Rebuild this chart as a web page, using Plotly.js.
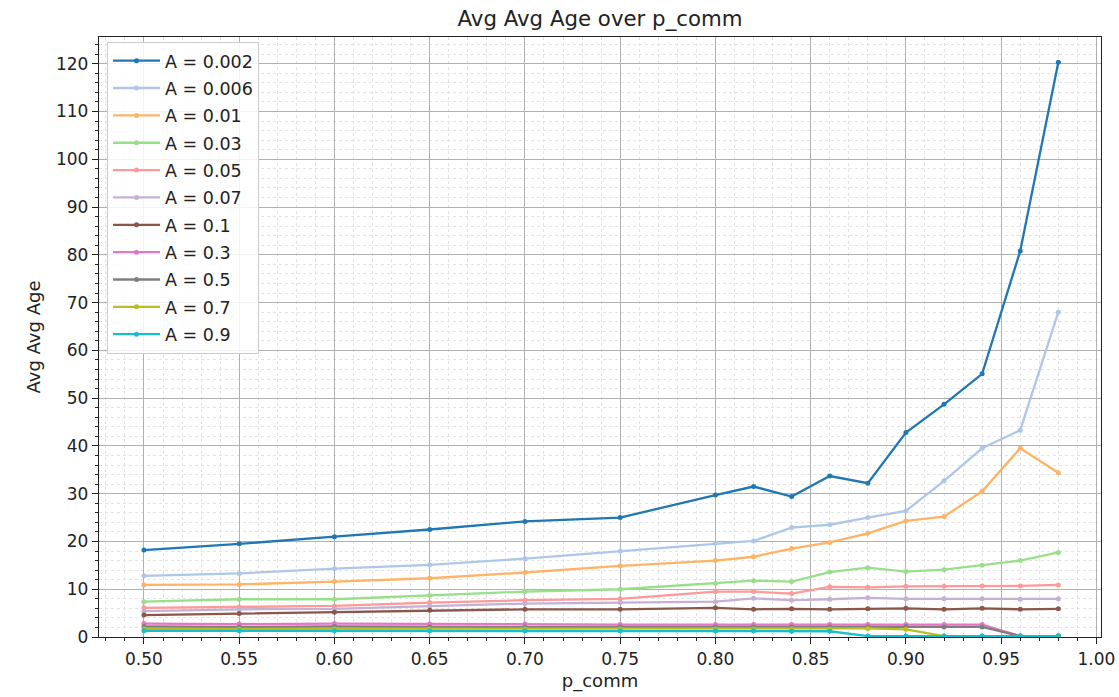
<!DOCTYPE html>
<html>
<head>
<meta charset="utf-8">
<script src="https://cdn.plot.ly/plotly-3.0.1.min.js"></script>
<style>html,body{margin:0;padding:0;background:#fff;}#chart{width:1119px;height:697px;}</style>
</head>
<body>
<div id="chart"></div>
<script>
const pComm = [0.50, 0.55, 0.60, 0.65, 0.70, 0.75, 0.80, 0.82, 0.84, 0.86, 0.88, 0.90, 0.92, 0.94, 0.96, 0.98];

const seriesNames = ["A = 0.002", "A = 0.006", "A = 0.01", "A = 0.03", "A = 0.05", "A = 0.07", "A = 0.1", "A = 0.3", "A = 0.5", "A = 0.7", "A = 0.9"];

const a0002 = [18.2, 19.5, 21.0, 22.5, 24.2, 25.0, 29.7, 31.5, 29.4, 33.7, 32.2, 42.8, 48.7, 55.1, 80.8, 120.3];
const a0006 = [12.8, 13.3, 14.3, 15.1, 16.4, 18.0, 19.6, 20.1, 22.9, 23.5, 25.0, 26.4, 32.7, 39.5, 43.3, 68.0];
const a001  = [10.9, 11.0, 11.6, 12.3, 13.5, 14.9, 16.0, 16.8, 18.5, 19.8, 21.7, 24.3, 25.2, 30.5, 39.5, 34.4];
const a003  = [7.4, 7.9, 7.9, 8.7, 9.5, 10.0, 11.2, 11.8, 11.6, 13.6, 14.5, 13.7, 14.1, 15.0, 16.0, 17.7];
const a005  = [6.1, 6.3, 6.5, 7.2, 7.7, 8.0, 9.5, 9.5, 9.1, 10.5, 10.4, 10.6, 10.6, 10.7, 10.7, 10.9];
const a007  = [5.4, 5.8, 5.9, 6.5, 7.0, 7.2, 7.4, 8.1, 7.7, 7.9, 8.2, 8.0, 8.0, 8.0, 7.9, 8.0];
const a01   = [4.6, 4.9, 5.2, 5.6, 5.8, 5.8, 6.1, 5.8, 5.9, 5.8, 5.9, 6.0, 5.8, 6.0, 5.8, 5.9];
const a03   = [2.8, 2.7, 2.8, 2.7, 2.7, 2.6, 2.6, 2.6, 2.6, 2.6, 2.6, 2.6, 2.6, 2.6, 0.2, 0.2];
const a05   = [2.2, 2.1, 2.2, 2.1, 2.1, 2.1, 2.1, 2.1, 2.1, 2.1, 2.1, 2.2, 2.1, 2.1, 0.2, 0.2];
const a07   = [1.7, 1.7, 1.7, 1.7, 1.7, 1.7, 1.7, 1.7, 1.7, 1.7, 1.8, 1.6, 0.2, 0.2, 0.2, 0.2];
const a09   = [1.3, 1.3, 1.3, 1.3, 1.3, 1.3, 1.3, 1.3, 1.2, 1.2, 0.2, 0.2, 0.2, 0.2, 0.2, 0.2];

const seriesValues = [a0002, a0006, a001, a003, a005, a007, a01, a03, a05, a07, a09];
const colors = ["#1f77b4", "#aec7e8", "#ffb366", "#98df8a", "#ff9896", "#c5b0d5", "#8c564b", "#e377c2", "#7f7f7f", "#bcbd22", "#17becf"];

const traces = seriesNames.map((name, i) => ({
  x: pComm,
  y: seriesValues[i],
  name: name,
  legendgroup: "g" + i,
  type: "scatter",
  mode: "lines+markers",
  line: {color: colors[i], width: 2.3},
  marker: {color: colors[i], size: 5}
}));

const font = "DejaVu Sans, Verdana, sans-serif";
const layout = {
  width: 1119,
  height: 697,
  paper_bgcolor: "#ffffff",
  plot_bgcolor: "#ffffff",
  margin: {l: 99, r: 18, t: 37, b: 60},
  font: {family: font, size: 17, color: "#222"},
  title: {text: "Avg Avg Age over p_comm", x: 0.5, xref: "paper", xanchor: "center", y: 0.974, yref: "container", yanchor: "middle", font: {family: font, size: 21.3, color: "#222"}},
  xaxis: {
    range: [0.4764, 1.0024],
    tickmode: "linear", tick0: 0.5, dtick: 0.05, tickformat: ".2f",
    ticks: "outside", ticklen: 6, tickwidth: 1, tickcolor: "#222",
    showgrid: true, gridcolor: "#b0b0b0", gridwidth: 1,
    minor: {dtick: 0.01, tick0: 0.5, ticks: "outside", ticklen: 3, tickcolor: "#222", showgrid: true, gridcolor: "#e3e3e3", griddash: "dot", gridwidth: 1},
    showline: true, linecolor: "#222", linewidth: 1.2, mirror: true,
    zeroline: false,
    title: {text: "p_comm", font: {family: font, size: 18, color: "#222"}, standoff: 6},
    tickfont: {family: font, size: 17, color: "#222"}
  },
  yaxis: {
    range: [0, 125.6],
    tickmode: "linear", tick0: 0, dtick: 10,
    ticks: "outside", ticklen: 6, tickwidth: 1, tickcolor: "#222",
    showgrid: true, gridcolor: "#b0b0b0", gridwidth: 1,
    minor: {dtick: 2, tick0: 0, ticks: "outside", ticklen: 3, tickcolor: "#222", showgrid: true, gridcolor: "#e3e3e3", griddash: "dot", gridwidth: 1},
    showline: true, linecolor: "#222", linewidth: 1.2, mirror: true,
    zeroline: false,
    title: {text: "Avg Avg Age", font: {family: font, size: 18, color: "#222"}, standoff: 10},
    tickfont: {family: font, size: 17, color: "#222"}
  },
  showlegend: true,
  legend: {
    x: 0.008, y: 0.992, xanchor: "left", yanchor: "top",
    bgcolor: "rgba(255,255,255,0.85)", bordercolor: "#cccccc", borderwidth: 1,
    font: {family: font, size: 17.5, color: "#222"},
    tracegroupgap: 1.6, itemwidth: 47
  }
};

Plotly.newPlot("chart", traces, layout, {displayModeBar: false, staticPlot: true});
</script>
</body>
</html>
